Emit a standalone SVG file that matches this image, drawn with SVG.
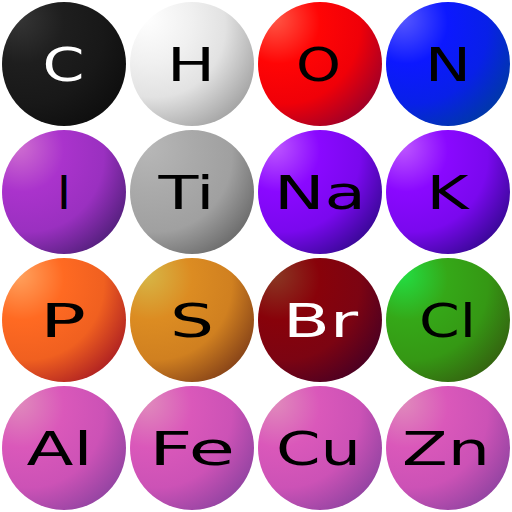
<svg xmlns="http://www.w3.org/2000/svg" width="512" height="512" viewBox="0 0 512 512">
<style>
text{font-family:"DejaVu Sans",sans-serif;font-size:47px;text-anchor:middle}
.b{fill:#000}
.w{fill:#fff}
</style>
<defs>
<radialGradient id="gC" cx="0.25" cy="0.25" r="0.95" fx="0.12" fy="0.12"><stop offset="0" stop-color="#363636"/><stop offset="0.35" stop-color="#1e1e1e"/><stop offset="0.65" stop-color="#181818"/><stop offset="0.92" stop-color="#0e0e0e"/></radialGradient>
<radialGradient id="gH" cx="0.25" cy="0.25" r="0.95" fx="0.12" fy="0.12"><stop offset="0" stop-color="#ffffff"/><stop offset="0.35" stop-color="#f0f0f0"/><stop offset="0.6" stop-color="#e2e2e2"/><stop offset="0.92" stop-color="#a4a4a4"/></radialGradient>
<radialGradient id="gO" cx="0.25" cy="0.25" r="0.95" fx="0.12" fy="0.12"><stop offset="0" stop-color="#ff5a48"/><stop offset="0.35" stop-color="#ff0505"/><stop offset="0.65" stop-color="#f00008"/><stop offset="0.92" stop-color="#a00028"/></radialGradient>
<radialGradient id="gN" cx="0.25" cy="0.25" r="0.95" fx="0.12" fy="0.12"><stop offset="0" stop-color="#5a5aff"/><stop offset="0.35" stop-color="#0c18ff"/><stop offset="0.65" stop-color="#0820e8"/><stop offset="0.92" stop-color="#0038a8"/></radialGradient>
<radialGradient id="gI" cx="0.25" cy="0.25" r="0.95" fx="0.12" fy="0.12"><stop offset="0" stop-color="#d070d0"/><stop offset="0.35" stop-color="#aa33cc"/><stop offset="0.65" stop-color="#9a30c0"/><stop offset="0.92" stop-color="#55207e"/></radialGradient>
<radialGradient id="gTi" cx="0.25" cy="0.25" r="0.95" fx="0.12" fy="0.12"><stop offset="0" stop-color="#b8b8b8"/><stop offset="0.35" stop-color="#aaaaaa"/><stop offset="0.65" stop-color="#a0a0a0"/><stop offset="0.92" stop-color="#6c6c6c"/></radialGradient>
<radialGradient id="gNa" cx="0.25" cy="0.25" r="0.95" fx="0.12" fy="0.12"><stop offset="0" stop-color="#c05aff"/><stop offset="0.35" stop-color="#8a08ff"/><stop offset="0.65" stop-color="#7a08ee"/><stop offset="0.92" stop-color="#3a0898"/></radialGradient>
<radialGradient id="gP" cx="0.25" cy="0.25" r="0.95" fx="0.12" fy="0.12"><stop offset="0" stop-color="#ffa460"/><stop offset="0.35" stop-color="#ff6a22"/><stop offset="0.65" stop-color="#f06020"/><stop offset="0.92" stop-color="#b02222"/></radialGradient>
<radialGradient id="gS" cx="0.25" cy="0.25" r="0.95" fx="0.12" fy="0.12"><stop offset="0" stop-color="#d6b848"/><stop offset="0.35" stop-color="#dc8c22"/><stop offset="0.65" stop-color="#d08020"/><stop offset="0.92" stop-color="#884418"/></radialGradient>
<radialGradient id="gBr" cx="0.25" cy="0.25" r="0.95" fx="0.12" fy="0.12"><stop offset="0" stop-color="#8a3a24"/><stop offset="0.35" stop-color="#88020a"/><stop offset="0.65" stop-color="#7c0412"/><stop offset="0.92" stop-color="#4c0022"/></radialGradient>
<radialGradient id="gCl" cx="0.25" cy="0.25" r="0.95" fx="0.12" fy="0.12"><stop offset="0" stop-color="#22e044"/><stop offset="0.35" stop-color="#35a818"/><stop offset="0.65" stop-color="#359814"/><stop offset="0.92" stop-color="#346410"/></radialGradient>
<radialGradient id="gM" cx="0.25" cy="0.25" r="0.95" fx="0.12" fy="0.12"><stop offset="0" stop-color="#e08cbc"/><stop offset="0.35" stop-color="#da58ba"/><stop offset="0.65" stop-color="#cc52b6"/><stop offset="0.92" stop-color="#9444a2"/></radialGradient>
</defs>
<g id="atom-C"><circle cx="64" cy="64" r="62" fill="url(#gC)"/><text class="w" x="63.5" y="81" textLength="42" lengthAdjust="spacingAndGlyphs">C</text></g>
<g id="atom-H"><circle cx="192" cy="64" r="62" fill="url(#gH)"/><text class="b" x="191" y="81" textLength="48" lengthAdjust="spacingAndGlyphs">H</text></g>
<g id="atom-O"><circle cx="320" cy="64" r="62" fill="url(#gO)"/><text class="b" x="318.5" y="81" textLength="45" lengthAdjust="spacingAndGlyphs">O</text></g>
<g id="atom-N"><circle cx="448" cy="64" r="62" fill="url(#gN)"/><text class="b" x="448" y="81" textLength="46" lengthAdjust="spacingAndGlyphs">N</text></g>
<g id="atom-I"><circle cx="64" cy="192" r="62" fill="url(#gI)"/><text class="b" x="64" y="209">I</text></g>
<g id="atom-Ti"><circle cx="192" cy="192" r="62" fill="url(#gTi)"/><text class="b" x="186.5" y="209" textLength="56" lengthAdjust="spacingAndGlyphs">Ti</text></g>
<g id="atom-Na"><circle cx="320" cy="192" r="62" fill="url(#gNa)"/><text class="b" x="320" y="209" textLength="92" lengthAdjust="spacingAndGlyphs">Na</text></g>
<g id="atom-K"><circle cx="448" cy="192" r="62" fill="url(#gNa)"/><text class="b" x="447.5" y="209" textLength="42" lengthAdjust="spacingAndGlyphs">K</text></g>
<g id="atom-P"><circle cx="64" cy="320" r="62" fill="url(#gP)"/><text class="b" x="63" y="337" textLength="46" lengthAdjust="spacingAndGlyphs">P</text></g>
<g id="atom-S"><circle cx="192" cy="320" r="62" fill="url(#gS)"/><text class="b" x="192" y="337" textLength="44" lengthAdjust="spacingAndGlyphs">S</text></g>
<g id="atom-Br"><circle cx="320" cy="320" r="62" fill="url(#gBr)"/><text class="w" x="320.5" y="337" textLength="75" lengthAdjust="spacingAndGlyphs">Br</text></g>
<g id="atom-Cl"><circle cx="448" cy="320" r="62" fill="url(#gCl)"/><text class="b" x="447.5" y="337" textLength="57" lengthAdjust="spacingAndGlyphs">Cl</text></g>
<g id="atom-Al"><circle cx="64" cy="448" r="62" fill="url(#gM)"/><text class="b" x="59.5" y="465" textLength="66" lengthAdjust="spacingAndGlyphs">Al</text></g>
<g id="atom-Fe"><circle cx="192" cy="448" r="62" fill="url(#gM)"/><text class="b" x="192" y="465" textLength="86" lengthAdjust="spacingAndGlyphs">Fe</text></g>
<g id="atom-Cu"><circle cx="320" cy="448" r="62" fill="url(#gM)"/><text class="b" x="318.5" y="465" textLength="85" lengthAdjust="spacingAndGlyphs">Cu</text></g>
<g id="atom-Zn"><circle cx="448" cy="448" r="62" fill="url(#gM)"/><text class="b" x="446" y="465" textLength="88" lengthAdjust="spacingAndGlyphs">Zn</text></g>
<g id="connectors"/>
</svg>
